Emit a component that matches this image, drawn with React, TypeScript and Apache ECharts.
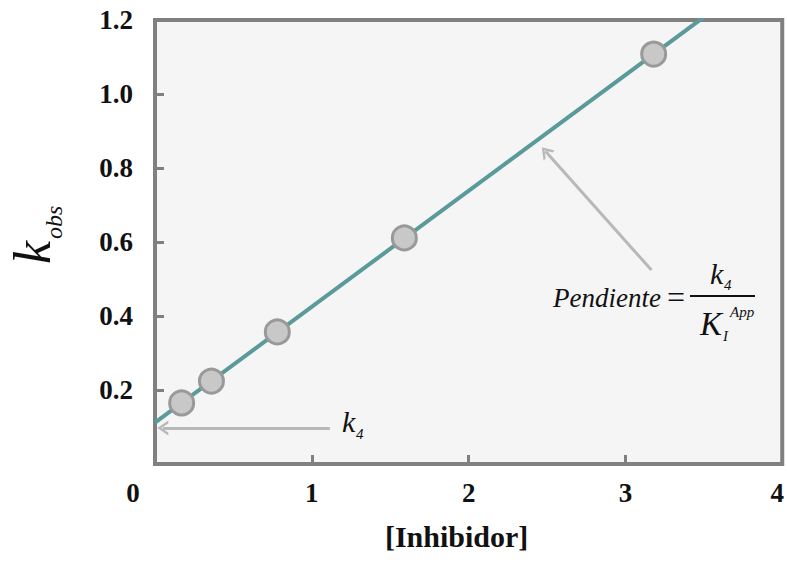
import React, { useEffect, useRef } from "react";
import * as echarts from "echarts";

const inhibitor = [0.17, 0.36, 0.78, 1.59, 3.18];
const kObs = [0.165, 0.224, 0.357, 0.611, 1.108];
const fitX = [0, 3.5];
const fitY = [0.112, 1.208];
const xTicks = [0, 1, 2, 3, 4];
const yTicks = [0.2, 0.4, 0.6, 0.8, 1.0, 1.2];
// annotation arrows: [tailX, tailY, tipX, tipY]
const interceptArrow = [1.115, 0.097, 0.05, 0.097];
const slopeArrow = [3.166, 0.524, 2.49, 0.845];

const FONT = "'Liberation Serif', 'DejaVu Serif', serif";
const chevron = "path://M0,10 L5,0 L10,10 L8,10 L5,3.6 L2,10 Z";

export default function App() {
  const ref = useRef<HTMLDivElement>(null);
  useEffect(() => {
    if (!ref.current) return;
    const chart = echarts.init(ref.current, null, { renderer: "svg" });
    const arrowColor = "#b8b8b8";
    const lbl = { fontFamily: FONT, fontWeight: "bold", fontSize: 27, color: "#111" };
    const it = (text: string, x: number, y: number, size: number, va = "bottom") => ({
      type: "text",
      x,
      y,
      style: { text, fontFamily: FONT, fontStyle: "italic", fontSize: size, fill: "#111", verticalAlign: va },
    });
    chart.setOption({
      animation: false,
      backgroundColor: "#ffffff",
      grid: {
        left: 155,
        right: 4,
        top: 20,
        bottom: 98,
        show: true,
        borderColor: "#808080",
        borderWidth: 4,
        backgroundColor: "#f5f5f5",
      },
      xAxis: {
        type: "value",
        min: xTicks[0],
        max: xTicks[xTicks.length - 1],
        interval: 1,
        name: "[Inhibidor]",
        nameLocation: "middle",
        nameGap: 57,
        nameTextStyle: { fontFamily: FONT, fontWeight: "bold", fontSize: 30, color: "#111", padding: [0, 24, 0, 0] },
        axisLine: { show: false },
        splitLine: { show: false },
        axisTick: { show: true, inside: true, length: 9, lineStyle: { color: "#808080", width: 3 } },
        axisLabel: {
          margin: 15,
          ...lbl,
          formatter: (v: number) => (v === 0 ? "{z|0}" : v === 4 ? "{f|4}" : String(v)),
          rich: {
            z: { ...lbl, padding: [0, 44, 0, 0] },
            f: { ...lbl, padding: [0, 10, 0, 0] },
          },
        },
      },
      yAxis: {
        type: "value",
        min: 0,
        max: yTicks[yTicks.length - 1],
        interval: 0.2,
        axisLine: { show: false },
        splitLine: { show: false },
        axisTick: { show: true, inside: true, length: 9, lineStyle: { color: "#808080", width: 3 } },
        axisLabel: {
          showMinLabel: false,
          margin: 22,
          ...lbl,
          formatter: (v: number) => (v === 0 ? "" : v.toFixed(1)),
        },
      },
      series: [
        {
          type: "line",
          data: fitX.map((x, i) => [x, fitY[i]]),
          showSymbol: false,
          symbol: "none",
          clip: true,
          lineStyle: { color: "#5b9a9a", width: 4 },
          silent: true,
          z: 2,
          markLine: {
            silent: true,
            symbol: ["none", chevron],
            symbolSize: [15, 11],
            label: { show: false },
            lineStyle: { color: arrowColor, width: 3, type: "solid" },
            emphasis: { disabled: true },
            data: [
              [
                { coord: [interceptArrow[0], interceptArrow[1]] },
                { coord: [interceptArrow[2], interceptArrow[3]] },
              ],
              [
                { coord: [slopeArrow[0], slopeArrow[1]] },
                { coord: [slopeArrow[2], slopeArrow[3]] },
              ],
            ],
          },
        },
        {
          type: "scatter",
          data: inhibitor.map((x, i) => [x, kObs[i]]),
          symbolSize: 24,
          itemStyle: { color: "#c8c8c8", borderColor: "#999999", borderWidth: 3, opacity: 1 },
          z: 3,
        },
      ],
      graphic: [
        {
          type: "group",
          x: 58,
          y: 264,
          rotation: Math.PI / 2,
          children: [it("k", 0, 0, 52), it("obs", 25, 8, 24)],
        },
        // intercept label
        it("k", 342, 436, 30),
        it("4", 356, 441, 15),
        // slope formula
        it("Pendiente", 553, 298, 27, "middle"),
        { type: "text", x: 667, y: 297, style: { text: "=", fontFamily: FONT, fontSize: 32, fill: "#111", verticalAlign: "middle" } },
        { type: "line", shape: { x1: 690, y1: 296, x2: 755, y2: 296 }, style: { stroke: "#111", lineWidth: 2 } },
        it("k", 710, 288, 30),
        it("4", 724, 292, 15),
        it("K", 700, 340, 33),
        it("I", 723, 343, 15),
        it("App", 730, 319, 15),
      ],
    });
    return () => chart.dispose();
  }, []);
  return <div ref={ref} style={{ position: "fixed", left: 0, top: 0, width: 787, height: 562 }} />;
}
